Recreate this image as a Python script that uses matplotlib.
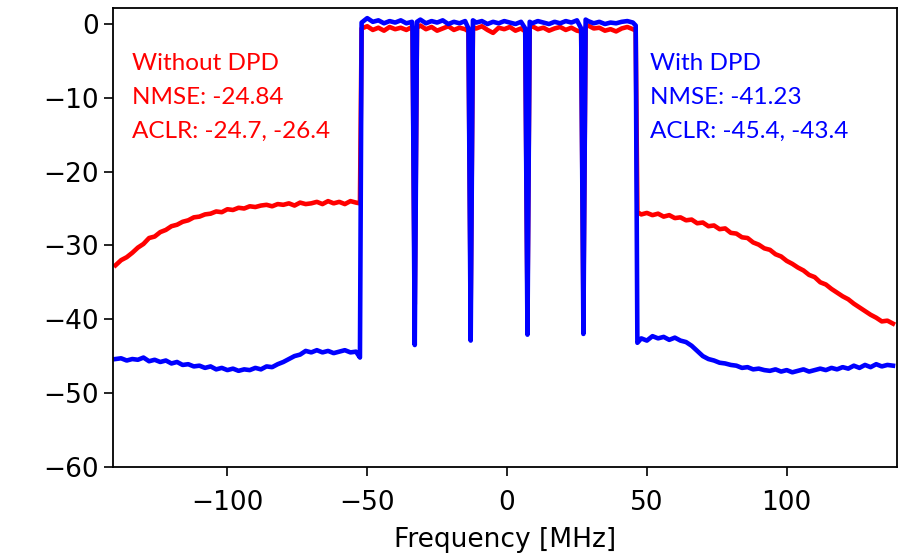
import numpy as np
import matplotlib
matplotlib.use("Agg")
import matplotlib.pyplot as plt

# ---------------- data ----------------
freq_lower = list(np.arange(-140, -53, 2)) + [-52.6]
red_lower = [-32.7, -32.0, -31.6, -31.0, -30.3, -29.8, -29.0, -28.8, -28.2, -27.9,
             -27.4, -27.2, -26.8, -26.6, -26.2, -26.1, -25.8, -25.7, -25.4, -25.5,
             -25.1, -25.2, -24.9, -25.0, -24.7, -24.8, -24.6, -24.5, -24.7, -24.4,
             -24.5, -24.3, -24.6, -24.2, -24.4, -24.3, -24.1, -24.4, -24.0, -24.3,
             -24.1, -24.4, -24.0, -24.2, -24.3]
blue_lower = [-45.4, -45.3, -45.6, -45.4, -45.5, -45.2, -45.7, -45.5, -45.8, -45.6,
              -46.0, -45.8, -46.2, -46.1, -46.4, -46.3, -46.6, -46.4, -46.8, -46.6,
              -46.9, -46.7, -47.0, -46.8, -46.9, -46.6, -46.8, -46.4, -46.5, -46.1,
              -45.8, -45.4, -45.0, -44.8, -44.3, -44.5, -44.2, -44.5, -44.3, -44.6,
              -44.4, -44.2, -44.5, -44.4, -45.2]

freq_inband = [-52.0, -50, -48, -46, -44, -42, -40, -38, -36, -34, -33.8,
               -33.0,
               -32.2, -31, -29, -27, -25, -23, -21, -19, -17, -15, -13.8,
               -13.0,
               -12.2, -11, -9, -7, -5, -3, -1, 1, 3, 5, 6.5,
               7.3,
               8.1, 9, 11, 13, 15, 17, 19, 21, 23, 25, 26.5,
               27.3,
               28.1, 29, 31, 33, 35, 37, 39, 41, 43, 45, 46.0]
red_inband = [-0.6, -0.3, -0.8, -0.5, -0.9, -0.4, -0.7, -0.5, -0.8, -0.4, -1.0,
              -38.0,
              -0.5, -0.2, -0.7, -0.4, -0.9, -0.6, -0.3, -0.8, -0.5, -0.7, -1.0,
              -38.0,
              -0.4, -0.6, -0.3, -0.8, -1.2, -0.5, -0.7, -0.4, -0.9, -0.6, -1.0,
              -38.0,
              -0.5, -0.3, -0.7, -0.5, -0.9, -0.6, -0.4, -0.8, -0.5, -0.9, -1.0,
              -38.0,
              -0.4, -0.2, -0.6, -0.5, -0.9, -0.7, -1.0, -0.6, -0.4, -0.7, -0.9]
blue_inband = [0.2, 0.8, 0.3, 0.5, 0.1, 0.4, 0.2, 0.5, 0.1, 0.3, -0.6,
               -43.5,
               0.3, 0.6, 0.1, 0.4, 0.2, 0.5, 0.0, 0.3, 0.1, 0.4, -0.6,
               -42.9,
               0.5, 0.2, 0.4, 0.0, 0.3, 0.1, 0.4, 0.2, 0.0, 0.3, -0.6,
               -42.1,
               0.3, 0.1, 0.4, 0.2, 0.0, 0.3, 0.1, 0.4, 0.2, 0.5, -0.6,
               -42.0,
               0.6, 0.4, 0.1, 0.3, 0.0, 0.2, 0.1, 0.3, 0.4, 0.2, -0.2]

freq_upper = [46.6] + list(np.arange(48, 139, 2))
red_upper = [-25.5, -25.8, -25.6, -25.9, -25.7, -26.1, -25.9, -26.3, -26.2, -26.6,
             -26.5, -27.0, -26.9, -27.4, -27.3, -27.8, -27.7, -28.3, -28.4, -28.9,
             -29.0, -29.6, -29.9, -30.4, -30.6, -31.2, -31.5, -32.1, -32.5, -33.0,
             -33.4, -34.0, -34.3, -35.0, -35.3, -35.9, -36.4, -36.9, -37.3, -37.9,
             -38.4, -38.9, -39.4, -39.8, -40.3, -40.2, -40.6]
blue_upper = [-43.2, -42.6, -42.9, -42.3, -42.6, -42.4, -42.8, -42.5, -42.9, -43.1,
              -43.6, -44.3, -45.0, -45.4, -45.6, -45.9, -46.0, -46.2, -46.3, -46.6,
              -46.5, -46.8, -46.7, -46.9, -47.0, -46.8, -47.1, -46.9, -47.2, -47.0,
              -46.8, -47.1, -46.9, -46.7, -46.9, -46.6, -46.8, -46.5, -46.7, -46.3,
              -46.6, -46.2, -46.5, -46.1, -46.4, -46.2, -46.3]

label_without = "Without DPD\nNMSE: -24.84\nACLR: -24.7, -26.4"
label_with = "With DPD\nNMSE: -41.23\nACLR: -45.4, -43.4"
x_ticks = [-100, -50, 0, 50, 100]
y_ticks = [0, -10, -20, -30, -40, -50, -60]

# ---------------- assemble ----------------
freq = np.concatenate([freq_lower, freq_inband, freq_upper])
red = np.concatenate([red_lower, red_inband, red_upper])
blue = np.concatenate([blue_lower, blue_inband, blue_upper])

fig = plt.figure(figsize=(9.09, 5.57), dpi=100)
ax = fig.add_axes([0.124, 0.162, 0.863, 0.824])

ax.plot(freq, red, color="#ff0000", lw=3.3, solid_joinstyle="round")
ax.plot(freq, blue, color="#0000ff", lw=3.3, solid_joinstyle="round")

ax.set_xlim(-141, 139.5)
ax.set_ylim(-60, 2.2)
ax.set_xticks(x_ticks)
ax.set_yticks(y_ticks)
ax.tick_params(labelsize=19, width=1.2, length=6.5)
ax.tick_params(axis="x", pad=10)
for s in ax.spines.values():
    s.set_linewidth(1.3)
ax.set_xlabel("Frequency [MHz]", fontsize=19, labelpad=8)

ax.text(-134, -3.9, label_without, color="#ff0000", fontsize=17.5,
        family="Lato", va="top", ha="left", linespacing=1.78)
ax.text(51, -3.9, label_with, color="#0000ff", fontsize=17.5,
        family="Lato", va="top", ha="left", linespacing=1.78)

fig.savefig("out.png", dpi=100)
